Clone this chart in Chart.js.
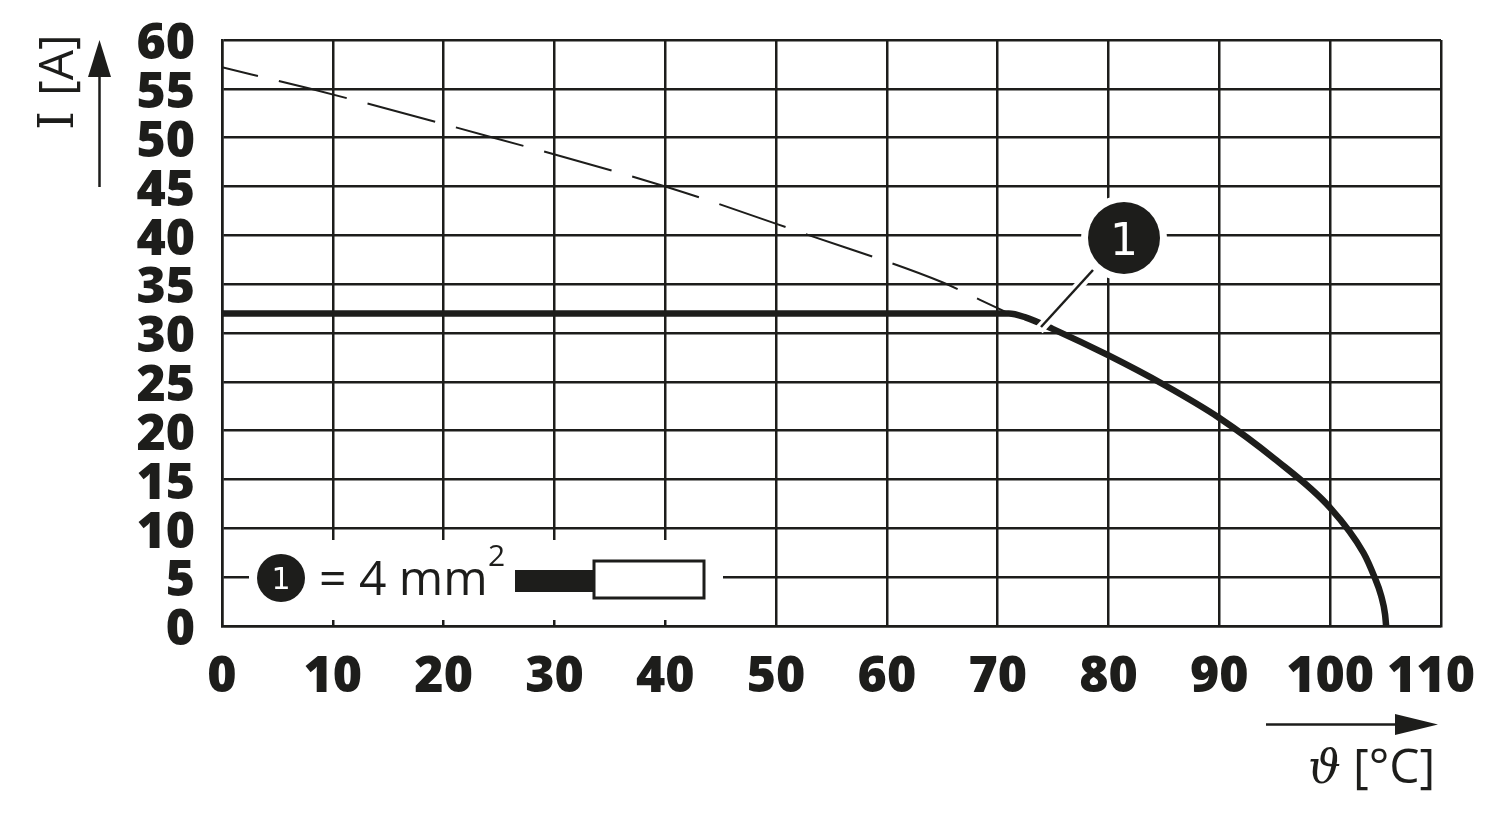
<!DOCTYPE html>
<html>
<head>
<meta charset="utf-8">
<title>Derating</title>
<script src="https://cdn.jsdelivr.net/npm/chart.js@4/dist/chart.umd.js"></script>
<style>
    html, body { margin: 0; padding: 0; background: #fff; }
    canvas { display: block; }
</style>
</head>
<body>
<canvas id="deratingChart" width="1500" height="821"></canvas>
<script>
// values
const xTicks = [0, 10, 20, 30, 40, 50, 60, 70, 80, 90, 100, 110];
const yTicks = [0, 5, 10, 15, 20, 25, 30, 35, 40, 45, 50, 55, 60];
const solidTemp = [0, 71, 72.5, 75, 80, 85, 90, 95, 100, 103, 104, 104.6, 104.95, 105.05];
const solidCurrent = [32, 32, 31.6, 30.4, 27.7, 24.7, 21.3, 17.1, 12.1, 7.5, 5, 3.1, 1.2, 0];
const dashedTemp = [0, 8, 24.5, 40, 53, 65, 68.4, 71];
const dashedCurrent = [57.2, 55, 50, 45, 40, 35.2, 33.4, 32];

const INK = '#1d1d1b';

const toPoints = (xs, ys) => xs.map((x, i) => ({ x: x, y: ys[i] }));

// hand-drawn bits of the drawing: callout, cable legend, axis arrows and titles
const annotations = {
    id: 'annotations',
    beforeDraw(chart) {
        // label nudges the scale options can't do per tick
        const xItems = chart.scales.x.getLabelItems();
        xItems[xItems.length - 1].options.translation[0] = chart.scales.x.getPixelForValue(110) - 10;
        const yItems = chart.scales.y.getLabelItems();
        yItems.forEach((item) => {
            item.options.translation[1] = chart.scales.y.getPixelForValue(item.label) + 5;
        });
    },
    beforeDatasetsDraw(chart) {
        const c = chart.ctx;
        c.save();
        // holes in the grid behind the legend and the callout
        c.fillStyle = '#fff';
        c.fillRect(249, 540, 474, 80);
        c.beginPath();
        c.arc(1124, 238, 43, 0, Math.PI * 2);
        c.fill();
        c.restore();
    },
    afterDatasetsDraw(chart) {
        const c = chart.ctx;
        c.save();
        c.fillStyle = INK;
        c.strokeStyle = INK;

        // callout leader
        c.lineCap = 'butt';
        c.strokeStyle = '#fff';
        c.lineWidth = 10;
        c.beginPath();
        c.moveTo(1096, 267);
        c.lineTo(1039, 330);
        c.stroke();
        c.strokeStyle = INK;
        c.lineWidth = 2.5;
        c.beginPath();
        c.moveTo(1093, 270);
        c.lineTo(1041, 327);
        c.stroke();

        // callout bubble
        c.beginPath();
        c.arc(1124, 238, 36, 0, Math.PI * 2);
        c.fill();
        c.fillStyle = '#fff';
        c.font = '44px "DejaVu Sans"';
        c.textAlign = 'center';
        c.textBaseline = 'alphabetic';
        c.fillText('1', 1124, 255);

        // legend
        c.fillStyle = INK;
        c.beginPath();
        c.arc(281, 578, 24, 0, Math.PI * 2);
        c.fill();
        c.fillStyle = '#fff';
        c.font = '30px "DejaVu Sans"';
        c.fillText('1', 281, 589);
        c.fillStyle = INK;
        c.textAlign = 'left';
        c.font = '48px "Open Sans"';
        c.fillText('= 4 mm', 319, 595);
        c.font = '30px "Open Sans"';
        c.fillText('2', 488, 566);
        c.fillRect(515, 570, 80, 22);
        c.lineWidth = 3;
        c.strokeRect(594, 561, 110, 37);

        // y arrow
        c.lineWidth = 2.5;
        c.beginPath();
        c.moveTo(99.5, 187);
        c.lineTo(99.5, 76);
        c.stroke();
        c.beginPath();
        c.moveTo(99.5, 40);
        c.lineTo(111, 77);
        c.lineTo(88, 77);
        c.closePath();
        c.fill();

        // x arrow
        c.beginPath();
        c.moveTo(1266, 724.5);
        c.lineTo(1398, 724.5);
        c.stroke();
        c.beginPath();
        c.moveTo(1438, 724.5);
        c.lineTo(1395, 714);
        c.lineTo(1395, 735);
        c.closePath();
        c.fill();

        // y title
        c.save();
        c.translate(73, 130);
        c.rotate(-Math.PI / 2);
        c.font = '48px "DejaVu Serif"';
        c.textAlign = 'left';
        c.fillText('I', 0, 0);
        c.font = '48px "Open Sans"';
        c.fillText('[A]', 34, 0);
        c.restore();

        // x title
        c.font = 'italic 46px "DejaVu Serif"';
        c.fillText('\u03d1', 1308, 783);
        c.font = '48px "Open Sans"';
        c.fillText('[°C]', 1353, 783);
        c.restore();
    }
};

const config = {
    type: 'line',
    data: {
        datasets: [{
            label: 'dashed',
            data: toPoints(dashedTemp, dashedCurrent),
            borderColor: INK,
            borderWidth: 2,
            borderDash: [70, 21.5],
            borderDashOffset: 33,
            pointRadius: 0,
            cubicInterpolationMode: 'monotone'
        }, {
            label: '4 mm2',
            data: toPoints(solidTemp, solidCurrent),
            borderColor: INK,
            borderWidth: 6.5,
            pointRadius: 0,
            cubicInterpolationMode: 'monotone',
            borderCapStyle: 'butt',
            clip: false
        }]
    },
    options: {
        responsive: false,
        animation: false,
        layout: { padding: { top: 40, right: 59, left: 0, bottom: 0 } },
        plugins: {
            legend: { display: false },
            title: { display: false },
            tooltip: { enabled: false }
        },
        scales: {
            x: {
                type: 'linear',
                min: 0,
                max: 110,
                afterFit: (scale) => {
                    scale.height = 195;
                    scale.paddingLeft = 0;
                    scale.paddingRight = 0;
                },
                afterBuildTicks: (scale) => { scale.ticks = xTicks.map((v) => ({ value: v })); },
                grid: { color: INK, lineWidth: 2.5, drawTicks: false },
                border: { color: INK, width: 2.5 },
                ticks: {
                    color: INK,
                    padding: 22,
                    maxRotation: 0,
                    autoSkip: false,
                    font: { family: '"Open Sans"', size: 50, weight: '800' }
                }
            },
            y: {
                min: 0,
                max: 60,
                afterFit: (scale) => {
                    scale.width = 222;
                    scale.paddingTop = 0;
                    scale.paddingBottom = 0;
                },
                afterBuildTicks: (scale) => { scale.ticks = yTicks.map((v) => ({ value: v })); },
                grid: { color: INK, lineWidth: 2.5, drawTicks: false },
                border: { color: INK, width: 2.5 },
                ticks: {
                    color: INK,
                    padding: 27,
                    autoSkip: false,
                    font: { family: '"Open Sans"', size: 50, weight: '800' }
                }
            }
        }
    },
    plugins: [annotations]
};

new Chart(document.getElementById('deratingChart').getContext('2d'), config);
</script>
</body>
</html>
